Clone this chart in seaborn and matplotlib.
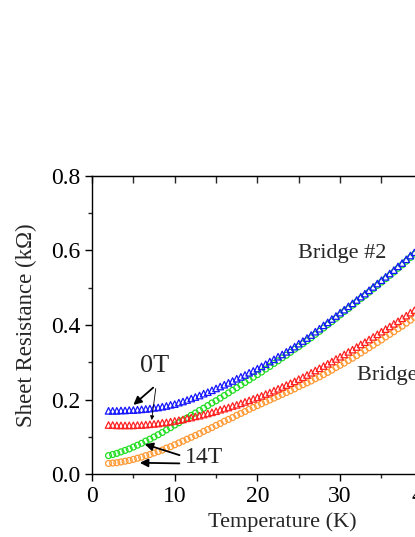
import numpy as np
import pandas as pd
import matplotlib
matplotlib.use("Agg")
import matplotlib.pyplot as plt
import seaborn as sns
from matplotlib.ticker import MultipleLocator

# ---- data ----
temperature = np.arange(2.0, 40.01, 0.5)

r_b2_0T = [0.170, 0.170, 0.170, 0.171, 0.171, 0.172, 0.172, 0.173, 0.174, 0.175, 0.176, 0.178, 0.179, 0.181, 0.183, 0.186,
           0.188, 0.192, 0.195, 0.199, 0.203, 0.207, 0.211, 0.216, 0.220, 0.225, 0.230, 0.235, 0.240, 0.245, 0.250, 0.256,
           0.261, 0.266, 0.272, 0.277, 0.283, 0.289, 0.295, 0.302, 0.308, 0.315, 0.321, 0.328, 0.335, 0.342, 0.350, 0.357,
           0.365, 0.373, 0.382, 0.390, 0.399, 0.407, 0.416, 0.424, 0.433, 0.441, 0.450, 0.458, 0.467, 0.476, 0.484, 0.493,
           0.502, 0.511, 0.520, 0.529, 0.538, 0.547, 0.557, 0.566, 0.576, 0.586, 0.595, 0.605, 0.615]

r_b2_14T = [0.050, 0.053, 0.056, 0.060, 0.064, 0.068, 0.073, 0.078, 0.083, 0.089, 0.094, 0.100, 0.106, 0.112, 0.119, 0.125,
            0.132, 0.138, 0.145, 0.151, 0.158, 0.164, 0.171, 0.177, 0.184, 0.191, 0.197, 0.204, 0.211, 0.218, 0.225, 0.232,
            0.239, 0.246, 0.253, 0.260, 0.267, 0.274, 0.282, 0.289, 0.297, 0.304, 0.312, 0.319, 0.327, 0.335, 0.342, 0.350,
            0.358, 0.366, 0.375, 0.383, 0.392, 0.401, 0.409, 0.418, 0.427, 0.436, 0.444, 0.453, 0.462, 0.471, 0.479, 0.488,
            0.497, 0.506, 0.515, 0.524, 0.533, 0.542, 0.552, 0.561, 0.571, 0.581, 0.590, 0.600, 0.610]

r_b1_0T = [0.132, 0.132, 0.131, 0.131, 0.131, 0.131, 0.131, 0.132, 0.132, 0.133, 0.134, 0.135, 0.136, 0.138, 0.139, 0.141,
           0.143, 0.145, 0.147, 0.150, 0.152, 0.155, 0.157, 0.160, 0.163, 0.166, 0.169, 0.173, 0.176, 0.179, 0.183, 0.186,
           0.190, 0.194, 0.198, 0.202, 0.206, 0.210, 0.215, 0.219, 0.224, 0.229, 0.234, 0.239, 0.244, 0.249, 0.255, 0.260,
           0.266, 0.272, 0.278, 0.284, 0.290, 0.296, 0.302, 0.309, 0.315, 0.321, 0.328, 0.334, 0.341, 0.348, 0.354, 0.361,
           0.368, 0.375, 0.382, 0.389, 0.396, 0.403, 0.410, 0.418, 0.425, 0.433, 0.440, 0.448, 0.455]

r_b1_14T = [0.029, 0.030, 0.031, 0.033, 0.035, 0.037, 0.040, 0.043, 0.046, 0.050, 0.053, 0.057, 0.061, 0.065, 0.070, 0.074,
            0.079, 0.084, 0.089, 0.094, 0.099, 0.104, 0.109, 0.115, 0.120, 0.125, 0.131, 0.136, 0.142, 0.147, 0.152, 0.158,
            0.163, 0.168, 0.174, 0.179, 0.184, 0.189, 0.194, 0.199, 0.204, 0.209, 0.214, 0.219, 0.224, 0.229, 0.235, 0.240,
            0.245, 0.250, 0.256, 0.261, 0.267, 0.273, 0.279, 0.286, 0.292, 0.298, 0.305, 0.311, 0.318, 0.325, 0.332, 0.339,
            0.346, 0.353, 0.360, 0.368, 0.375, 0.382, 0.390, 0.397, 0.405, 0.413, 0.421, 0.429, 0.437]

x_ticks = [0, 10, 20, 30, 40]
y_ticks = [0.0, 0.2, 0.4, 0.6, 0.8]
x_label = "Temperature (K)"
y_label = "Sheet Resistance (kΩ)"

# ---- style ----
sns.set_style("ticks")
plt.rcParams['font.family'] = ['Liberation Serif', 'DejaVu Serif']

fig = plt.figure(figsize=(4.15, 5.37), dpi=100)
ax = fig.add_axes([0.2217, 0.1168, 0.9167, 0.556])

series = [
    (r_b1_14T, 'o', '#FF9933', 18),
    (r_b2_14T, 'o', '#22DD22', 18),
    (r_b1_0T, '^', '#FF2020', 22),
    (r_b2_0T, '^', '#1515FF', 22),
]
for vals, mk, col, sz in series:
    df = pd.DataFrame({'T': temperature, 'R': vals})
    sns.scatterplot(data=df, x='T', y='R', marker=mk, s=sz, facecolor='none',
                    edgecolor=col, linewidth=0.9, ax=ax, legend=False, zorder=3)

ax.set_xlim(0, 46)
ax.set_ylim(0.0, 0.8)
ax.set_xticks(x_ticks)
ax.set_xticklabels([str(t) for t in x_ticks])
ax.set_yticks(y_ticks)
ax.set_yticklabels([f"{t:.1f}" for t in y_ticks])
ax.xaxis.set_minor_locator(MultipleLocator(5))
ax.yaxis.set_minor_locator(MultipleLocator(0.1))

for s in ax.spines.values():
    s.set_linewidth(1.0)
    s.set_color('black')

ax.tick_params(axis='both', which='major', direction='out', length=5, width=1, labelsize=17, colors='black')
ax.tick_params(axis='both', which='minor', direction='out', length=3, width=1)
# top axis with inward ticks
secx = ax.secondary_xaxis('top')
secx.set_xticks(x_ticks + [5, 15, 25, 35, 45])
secx.tick_params(direction='in', length=5, width=1, labeltop=False)
secx.set_xticklabels([])

ax.set_xlabel(x_label, fontsize=16, labelpad=4)
ax.set_ylabel(y_label, fontsize=16.5, labelpad=10)

# annotations
ax.text(7.62, 0.290, "0T", fontsize=19, ha='center', va='center')
ax.annotate("", xy=(4.75, 0.181), xytext=(7.65, 0.237),
            arrowprops=dict(arrowstyle='-|>', color='black', lw=1.3, mutation_scale=12), zorder=5)
ax.annotate("", xy=(7.17, 0.138), xytext=(7.75, 0.237),
            arrowprops=dict(arrowstyle='-|>', color='black', lw=0.6, mutation_scale=6), zorder=5)

ax.text(11.2, 0.046, "14T", fontsize=17, ha='left', va='center')
ax.annotate("", xy=(6.05, 0.083), xytext=(10.9, 0.049),
            arrowprops=dict(arrowstyle='-|>', color='black', lw=1.3, mutation_scale=12), zorder=5)
ax.annotate("", xy=(5.44, 0.031), xytext=(10.9, 0.029),
            arrowprops=dict(arrowstyle='-|>', color='black', lw=1.3, mutation_scale=12), zorder=5)

ax.text(24.9, 0.591, "Bridge #2", fontsize=16, ha='left', va='center')
ax.text(32.0, 0.266, "Bridge #1", fontsize=16, ha='left', va='center')

fig.savefig("out.png", dpi=100)
